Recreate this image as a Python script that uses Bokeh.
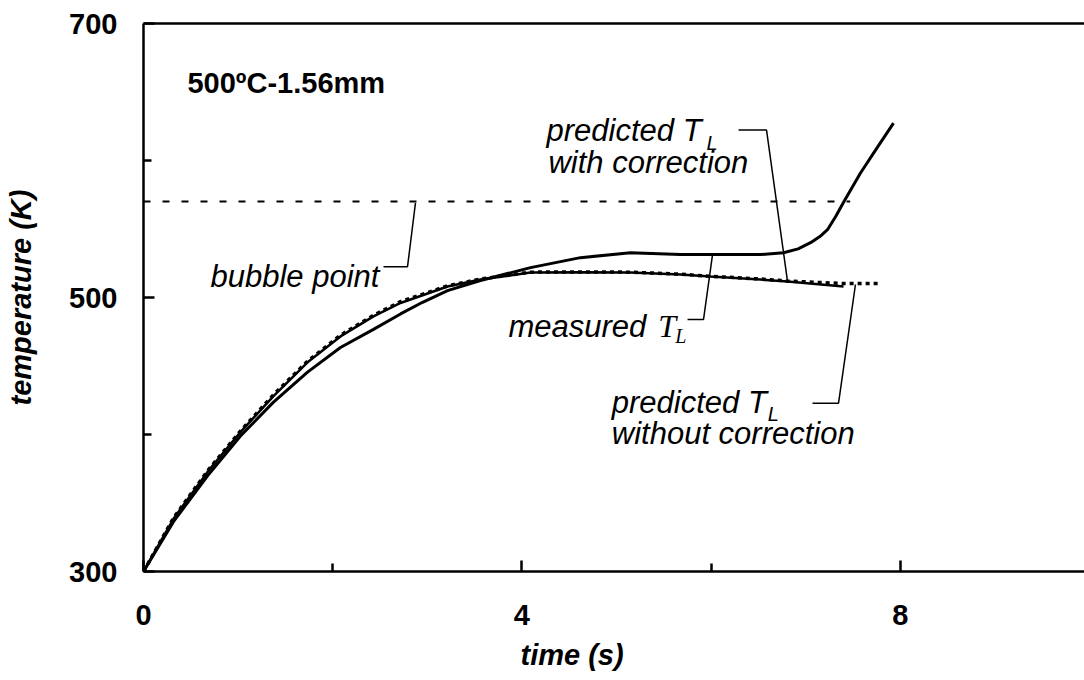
from bokeh.plotting import figure
from bokeh.models import Range1d, FixedTicker, LinearAxis, Label, Title
from bokeh.embed import file_html
from bokeh.resources import INLINE

# ---- data ----
t_meas = [0, 0.317, 0.677, 1.025, 1.374, 1.734, 2.082, 2.431, 2.717, 2.95, 3.214, 3.562,
          4.091, 4.619, 5.148, 5.677, 5.994, 6.522, 6.765, 6.92, 7.051, 7.15, 7.230,
          7.32, 7.40, 7.579, 7.759, 7.928]
T_meas = [300, 336.4, 369.8, 398.9, 423.6, 445.5, 463.5, 476.7, 488.0, 496.5, 505.0, 512.4,
          521.8, 529.1, 532.7, 531.3, 531.3, 531.3, 532.7, 535.5, 540.0, 544.5, 549.5,
          559.5, 569.5, 590.9, 609.8, 627.3]

t_corr = [0, 0.317, 0.677, 1.025, 1.374, 1.734, 2.082, 2.431, 2.717, 3.214, 3.562,
          4.091, 4.619, 5.148, 5.677, 5.994, 6.522, 6.808, 7.40]
T_corr = [300, 338.5, 372.7, 401.8, 428.0, 452.7, 471.6, 486.2, 496.0, 508.0, 513.1,
          518.2, 518.4, 518.2, 516.7, 515.3, 513.1, 511.6, 508.0]

t_nocorr = [0, 0.317, 0.677, 1.025, 1.374, 1.734, 2.082, 2.431, 2.717, 3.214, 3.562,
            4.091, 4.619, 5.148, 5.677, 5.994, 6.522, 6.808, 7.40, 7.77]
T_nocorr = [300, 339.0, 373.5, 402.5, 429.0, 453.5, 472.5, 487.0, 497.0, 508.5, 513.5,
            518.5, 518.7, 518.5, 517.0, 515.5, 513.5, 512.0, 510.2, 510.2]

t_bubble = [0, 7.47]
T_bubble = [570, 570]

x_ticks = [0, 4, 8]
x_minor = [2, 6]
y_ticks = [300, 500, 700]
y_minor = [400, 600]

SANS = "Liberation Sans"
SERIF = "Liberation Serif"

p = figure(width=1084, height=680, x_range=Range1d(0, 9.947), y_range=Range1d(300, 700),
           output_backend="svg", toolbar_location=None,
           min_border_left=143, min_border_right=0, min_border_top=23, min_border_bottom=107)
p.outline_line_color = None
p.grid.visible = False
p.background_fill_color = "white"

for ax, tk, mn in ((p.xaxis, x_ticks, x_minor), (p.yaxis, y_ticks, y_minor)):
    ax.ticker = FixedTicker(ticks=tk, minor_ticks=mn)
    ax.axis_line_width = 2.5
    ax.axis_line_color = "black"
    ax.major_tick_in = 11
    ax.major_tick_out = 0
    ax.minor_tick_in = 8
    ax.minor_tick_out = 0
    ax.major_tick_line_width = 2.5
    ax.minor_tick_line_width = 2.5
    ax.major_label_text_font = SANS
    ax.major_label_text_font_style = "bold"
    ax.major_label_text_font_size = "29px"
    ax.major_label_text_color = "black"
p.xaxis.major_label_standoff = 33
p.yaxis.major_label_standoff = 26

p.yaxis.axis_label = "temperature (K)"
p.yaxis.axis_label_text_font = SANS
p.yaxis.axis_label_text_font_style = "bold italic"
p.yaxis.axis_label_text_font_size = "29px"
p.yaxis.axis_label_text_color = "black"
p.yaxis.axis_label_standoff = 29

top = LinearAxis(ticker=FixedTicker(ticks=[]), axis_line_width=2.5, axis_line_color="black",
                 major_label_text_font_size="0px", major_tick_in=0, major_tick_out=0,
                 minor_tick_in=0, minor_tick_out=0)
p.add_layout(top, "above")

p.add_layout(Title(text="time (s)", align="left", offset=377, text_font=SANS,
                   text_font_size="29px", text_font_style="bold italic",
                   text_line_height=0.6, text_color="black", standoff=19), "below")

# curves
p.line(t_bubble, T_bubble, line_color="black", line_width=2, line_dash="7 12")
p.line(t_meas, T_meas, line_color="black", line_width=3)
p.line(t_corr, T_corr, line_color="black", line_width=2.5)
p.line(t_nocorr, T_nocorr, line_color="black", line_width=3.5, line_dash="4 4")

# leader lines for annotations
leaders = [
    ([2.537, 2.791, 2.875], [522.5, 522.5, 569.1]),
    ([5.751, 5.920, 6.015], [484.0, 484.0, 531.3]),
    ([6.290, 6.586, 6.808], [622.2, 622.2, 511.6]),
    ([7.072, 7.347, 7.526], [422.9, 422.9, 509.5]),
]
for xs, ys in leaders:
    p.line(xs, ys, line_color="black", line_width=1.5)

def lab(x, y, text, size="30px", style="italic", font=SANS):
    p.add_layout(Label(x=x, y=y, text=text, text_font=font, text_font_size=size,
                       text_font_style=style, text_color="black", text_align="left",
                       text_baseline="alphabetic"))

lab(0.465, 656.4, "500ºC-1.56mm", size="29px", style="bold")
lab(0.708, 515.3, "bubble point", size="31px")
lab(3.858, 478.9, "measured", size="31px")
lab(5.44, 478.9, "T", size="32px", font=SERIF)
lab(5.62, 471.6, "L", size="20px", font=SERIF)
lab(4.26, 622.2, "predicted T", size="31px")
lab(5.95, 612.5, "L", size="20px")
lab(4.28, 598.9, "with correction", size="31px")
lab(4.95, 423.6, "predicted T", size="31px")
lab(6.60, 414.6, "L", size="20px")
lab(4.95, 400.4, "without correction", size="31px")

open("out.html", "w").write(file_html(p, INLINE))
